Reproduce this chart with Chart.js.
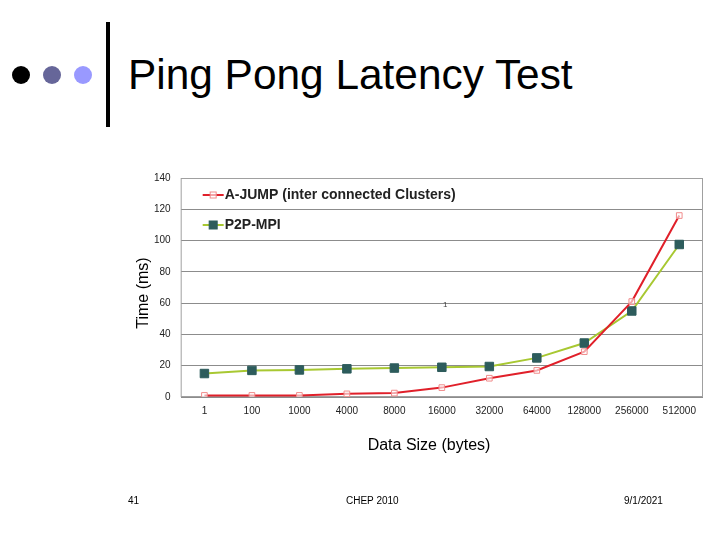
<!DOCTYPE html>
<html>
<head>
<meta charset="utf-8">
<script src="https://cdn.jsdelivr.net/npm/chart.js@4"></script>
<style>
  body { margin: 0; width: 720px; height: 540px; background: #fff; font-family: "Liberation Sans", Arial, sans-serif; position: relative; overflow: hidden; }
  .dot { position: absolute; top: 66px; width: 18px; height: 18px; border-radius: 50%; }
  .bar { position: absolute; left: 106px; top: 22px; width: 4px; height: 105px; background: #000; }
  h1 { position: absolute; left: 128px; top: 51px; margin: 0; font-weight: normal; font-size: 42.4px; color: #000; }
  .foot { position: absolute; top: 495px; font-size: 10px; color: #000; }
  .axt { position: absolute; font-size: 16px; color: #000; white-space: nowrap; transform: translate(-50%, -50%); }
  #c { position: absolute; left: 0; top: 0; }
</style>
</head>
<body>
<div class="dot" style="left:12px;background:#000"></div>
<div class="dot" style="left:43px;background:#666699"></div>
<div class="dot" style="left:74px;background:#9999ff"></div>
<div class="bar"></div>
<h1>Ping Pong Latency Test</h1>
<canvas id="c" width="720" height="540"></canvas>
<div class="axt" style="left:143px;top:293px;transform:translate(-50%,-50%) rotate(-90deg)">Time (ms)</div>
<div class="axt" style="left:429px;top:445px">Data Size (bytes)</div>
<div class="foot" style="left:443px;top:300px;font-size:8px;color:#444">1</div>
<div class="foot" style="left:128px">41</div>
<div class="foot" style="left:346px">CHEP 2010</div>
<div class="foot" style="left:624px">9/1/2021</div>
<script>
const sizes = ['1', '100', '1000', '4000', '8000', '16000', '32000', '64000', '128000', '256000', '512000'];
const ajump = [1, 1, 1, 2, 2.5, 6, 12, 17, 29, 61, 116];
const p2p = [15, 17, 17.3, 18, 18.5, 19, 19.5, 25, 34.5, 55, 97.5];
const seriesNames = ['A-JUMP (inter connected Clusters)', 'P2P-MPI'];

// frame + legend drawn inside the plot area
const frameAndLegend = {
  id: 'frameAndLegend',
  beforeDatasetsDraw(chart) {
    const { ctx, chartArea: a } = chart;
    ctx.save();
    ctx.strokeStyle = '#a0a0a0';
    ctx.lineWidth = 1;
    ctx.strokeRect(a.left + 0.5, a.top + 0.5, a.width - 1, a.height - 1);
    ctx.restore();
  },
  afterDraw(chart) {
    const { ctx, chartArea: a } = chart;
    ctx.save();
    ctx.font = 'bold 14px "Liberation Sans", Arial, sans-serif';
    ctx.textBaseline = 'middle';
    chart.data.datasets.forEach((ds, i) => {
      const y = a.top + 17 + i * 30;
      const x0 = a.left + 22;
      ctx.strokeStyle = ds.borderColor;
      ctx.lineWidth = 2;
      ctx.beginPath(); ctx.moveTo(x0, y); ctx.lineTo(x0 + 21, y); ctx.stroke();
      const s = i === 0 ? 6 : 8;
      ctx.fillStyle = ds.pointBackgroundColor;
      ctx.strokeStyle = ds.pointBorderColor;
      ctx.lineWidth = 1;
      ctx.fillRect(x0 + 10.5 - s / 2, y - s / 2, s, s);
      ctx.strokeRect(x0 + 10.5 - s / 2, y - s / 2, s, s);
      ctx.fillStyle = '#222';
      ctx.fillText(seriesNames[i], x0 + 22, y);
    });
    ctx.restore();
  }
};

new Chart(document.getElementById('c'), {
  type: 'line',
  data: {
    labels: sizes,
    datasets: [
      {
        label: seriesNames[0], data: ajump,
        borderColor: '#e0202a', borderWidth: 2, tension: 0,
        pointStyle: 'rect', pointRadius: 4, pointBorderWidth: 1,
        pointBackgroundColor: 'rgba(255,255,255,0.6)', pointBorderColor: '#f08c8c'
      },
      {
        label: seriesNames[1], data: p2p,
        borderColor: '#a8c832', borderWidth: 2, tension: 0,
        pointStyle: 'rect', pointRadius: 6, pointBorderWidth: 1,
        pointBackgroundColor: '#2d5c5c', pointBorderColor: '#2d5c5c'
      }
    ]
  },
  options: {
    responsive: false,
    animation: false,
    layout: { padding: { left: 144, right: 17, top: 178, bottom: 115 } },
    plugins: { legend: { display: false }, tooltip: { enabled: false } },
    scales: {
      x: {
        offset: true,
        grid: { display: false, drawTicks: false },
        border: { display: false },
        ticks: { color: '#222', font: { size: 10, family: '"Liberation Sans", Arial' }, padding: 8, maxRotation: 0, autoSkip: false }
      },
      y: {
        min: 0, max: 140,
        ticks: { stepSize: 20, color: '#222', font: { size: 10, family: '"Liberation Sans", Arial' }, padding: 10 },
        grid: { color: '#8c8c8c', drawTicks: false },
        border: { display: false }
      }
    }
  },
  plugins: [frameAndLegend]
});
</script>
</body>
</html>
